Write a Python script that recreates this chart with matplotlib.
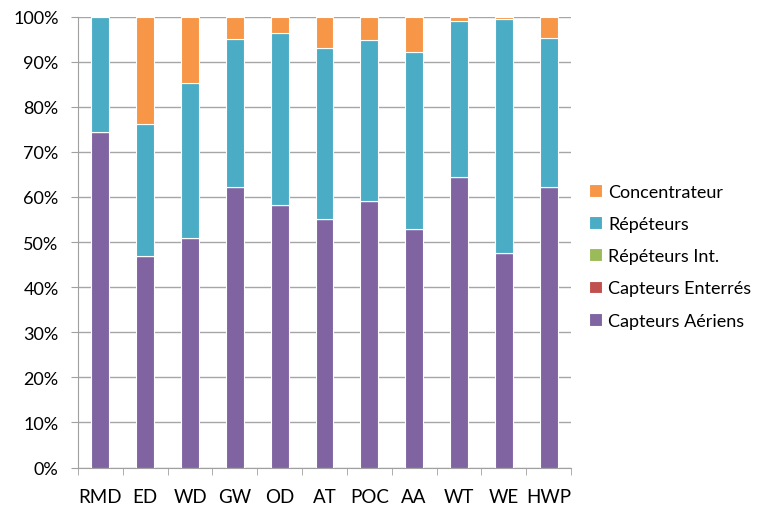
import numpy as np
import matplotlib
matplotlib.use("Agg")
import matplotlib.pyplot as plt
from matplotlib.ticker import PercentFormatter, FixedLocator

plt.rcParams['font.family'] = ['Lato', 'DejaVu Sans']

# data (percent of total per site)
sites = ["RMD", "ED", "WD", "GW", "OD", "AT", "POC", "AA", "WT", "WE", "HWP"]
capteurs_aeriens = [74.5, 46.9, 51.0, 62.2, 58.2, 55.2, 59.1, 52.8, 64.4, 47.5, 62.2]
capteurs_enterres = [0, 0, 0, 0, 0, 0, 0, 0, 0, 0, 0]
repeteurs_int = [0, 0, 0, 0, 0, 0, 0, 0, 0, 0, 0]
repeteurs = [25.5, 29.2, 34.2, 32.8, 38.2, 37.8, 35.7, 39.4, 34.7, 51.9, 33.1]
concentrateur = [0.0, 23.9, 14.8, 5.0, 3.6, 7.0, 5.2, 7.8, 0.9, 0.6, 4.7]

series = [
    ("Capteurs Aériens", capteurs_aeriens, "#8064A2"),
    ("Capteurs Enterrés", capteurs_enterres, "#C0504D"),
    ("Répéteurs Int.", repeteurs_int, "#9BBB59"),
    ("Répéteurs", repeteurs, "#4BACC6"),
    ("Concentrateur", concentrateur, "#F79646"),
]

fig = plt.figure(figsize=(7.6, 5.06), dpi=100)
ax = fig.add_axes([0.1026, 0.0741, 0.6487, 0.891])

x = np.arange(len(sites))
bottom = np.zeros(len(sites))
handles = []
for name, vals, col in series:
    vals = np.array(vals, dtype=float)
    b = ax.bar(x, vals, bottom=bottom, width=0.40, color=col,
               edgecolor="white", linewidth=0.8, label=name, zorder=3)
    handles.append(b)
    bottom += vals

ax.set_xlim(-0.5, len(sites) - 0.5)
ax.set_ylim(0, 100)
ax.set_yticks(np.arange(0, 101, 10))
ax.yaxis.set_major_formatter(PercentFormatter(decimals=0))
ax.set_xticks(x)
ax.set_xticklabels(sites)
ax.xaxis.set_minor_locator(FixedLocator(np.arange(-0.5, len(sites), 1)))
ax.tick_params(axis="x", which="major", length=0, pad=15, labelsize=13.5, colors="black")
ax.tick_params(axis="x", which="minor", length=5, color="#A0A0A0")
ax.tick_params(axis="y", length=5, color="#A0A0A0", labelsize=13, pad=9)

ax.grid(axis="y", color="#A6A6A6", linewidth=1, zorder=0)
for s in ["top", "right"]:
    ax.spines[s].set_visible(False)
for s in ["left", "bottom"]:
    ax.spines[s].set_color("#A0A0A0")

leg = fig.legend(handles[::-1], [h.get_label() for h in handles[::-1]],
                 loc="center left", bbox_to_anchor=(0.754, 0.492),
                 frameon=False, fontsize=13, handlelength=0.7, handleheight=0.7,
                 handletextpad=0.35, labelspacing=0.9)

fig.savefig("out.png", dpi=100)
